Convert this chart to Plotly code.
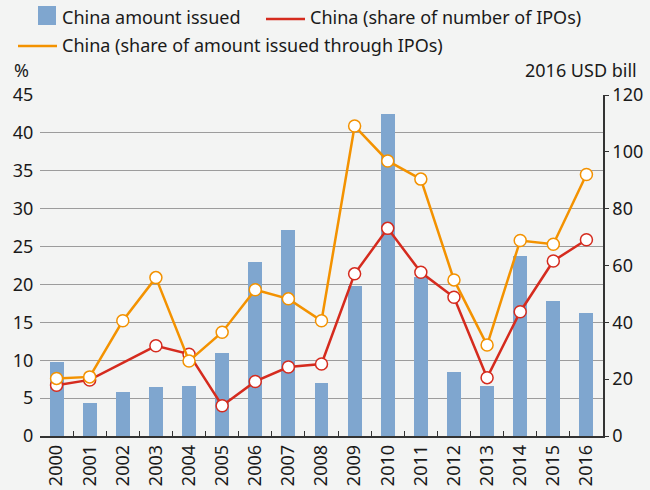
import plotly.graph_objects as go

years = [str(y) for y in range(2000, 2017)]
amount_issued = [26.0, 11.6, 15.5, 17.2, 17.6, 29.2, 61.2, 72.5, 18.7, 52.8, 113.3, 56.0, 22.5, 17.6, 63.3, 47.5, 43.3]
share_number = [6.7, 7.4, None, 11.9, 10.8, 4.0, 7.2, 9.1, 9.5, 21.4, 27.4, 21.6, 18.3, 7.7, 16.4, 23.1, 25.9]
share_amount = [7.6, 7.8, 15.2, 20.9, 9.9, 13.7, 19.3, 18.1, 15.2, 40.9, 36.3, 33.9, 20.6, 12.0, 25.8, 25.3, 34.5]

legend_labels = ["China amount issued", "China (share of number of IPOs)",
                 "China (share of amount issued through IPOs)"]

FONT = "Noto Sans"
FS = 18
BG = "#f3f4f3"
BLUE = "#7fa6cf"
RED = "#d52b1e"
ORANGE = "#f39200"
AX = "#333333"

W, H = 650, 490
L, R, T, B = 40, 47, 95, 54
PW, PH = W - L - R, H - T - B


def px(x):
    return (x - L) / PW


def py(y):
    return (H - B - y) / PH


fig = go.Figure()
fig.add_trace(go.Bar(x=years, y=amount_issued, name=legend_labels[0],
                     marker=dict(color=BLUE, line_width=0), width=0.42, yaxis="y"))
fig.add_trace(go.Scatter(x=years, y=share_number, name=legend_labels[1], yaxis="y2",
                         mode="lines+markers", connectgaps=True,
                         line=dict(color=RED, width=2.5),
                         marker=dict(size=12, color="white", line=dict(color=RED, width=1.5))))
fig.add_trace(go.Scatter(x=years, y=share_amount, name=legend_labels[2], yaxis="y2",
                         mode="lines+markers",
                         line=dict(color=ORANGE, width=2.5),
                         marker=dict(size=12, color="white", line=dict(color=ORANGE, width=1.5))))

shapes = [
    dict(type="rect", xref="paper", yref="paper", x0=px(38), x1=px(56), y0=py(25), y1=py(6),
         fillcolor=BLUE, line_width=0),
    dict(type="line", xref="paper", yref="paper", x0=px(266), x1=px(305), y0=py(19), y1=py(19),
         line=dict(color=RED, width=2.5)),
    dict(type="line", xref="paper", yref="paper", x0=px(18), x1=px(57), y0=py(46), y1=py(46),
         line=dict(color=ORANGE, width=2.5)),
]


def txt(s, x, y, anchor="left"):
    return dict(text=s, xref="paper", yref="paper", x=px(x), y=py(y), xanchor=anchor,
                yanchor="middle", showarrow=False, font=dict(size=FS), borderpad=0)


annotations = [
    txt(legend_labels[0], 61, 17),
    txt(legend_labels[1], 309, 17),
    txt(legend_labels[2], 61, 45),
    txt("%", 13, 70),
    txt("2016 USD bill", 638, 70, "right"),
]

fig.update_layout(
    width=W, height=H,
    paper_bgcolor=BG, plot_bgcolor=BG,
    font=dict(family=FONT, size=FS, color="#1a1a1a"),
    margin=dict(l=L, r=R, t=T, b=B, autoexpand=False),
    showlegend=False,
    shapes=shapes,
    annotations=annotations,
    bargap=0,
    xaxis=dict(type="category", tickangle=-90, showgrid=False, automargin=False,
               showline=True, linecolor=AX, linewidth=1.5,
               ticks="inside", tickson="boundaries", ticklen=5, tickcolor=AX, tickwidth=1,
               range=[-0.5, 16.5]),
    yaxis=dict(range=[0, 120], dtick=20, side="right", showgrid=False, automargin=False,
               showline=True, linecolor=AX, linewidth=1.5, zeroline=False,
               ticks="outside", ticklen=4, tickcolor=AX, tickwidth=1),
    yaxis2=dict(range=[0, 45], dtick=5, overlaying="y", side="left", automargin=False,
                showgrid=True, gridcolor="#9c9c9c", gridwidth=1.3,
                showline=False, zeroline=False, ticks="outside", ticklen=2, tickcolor=BG),
)

fig.write_html("out.html", config={"displayModeBar": False},
               post_script="document.body.style.margin='0';")
